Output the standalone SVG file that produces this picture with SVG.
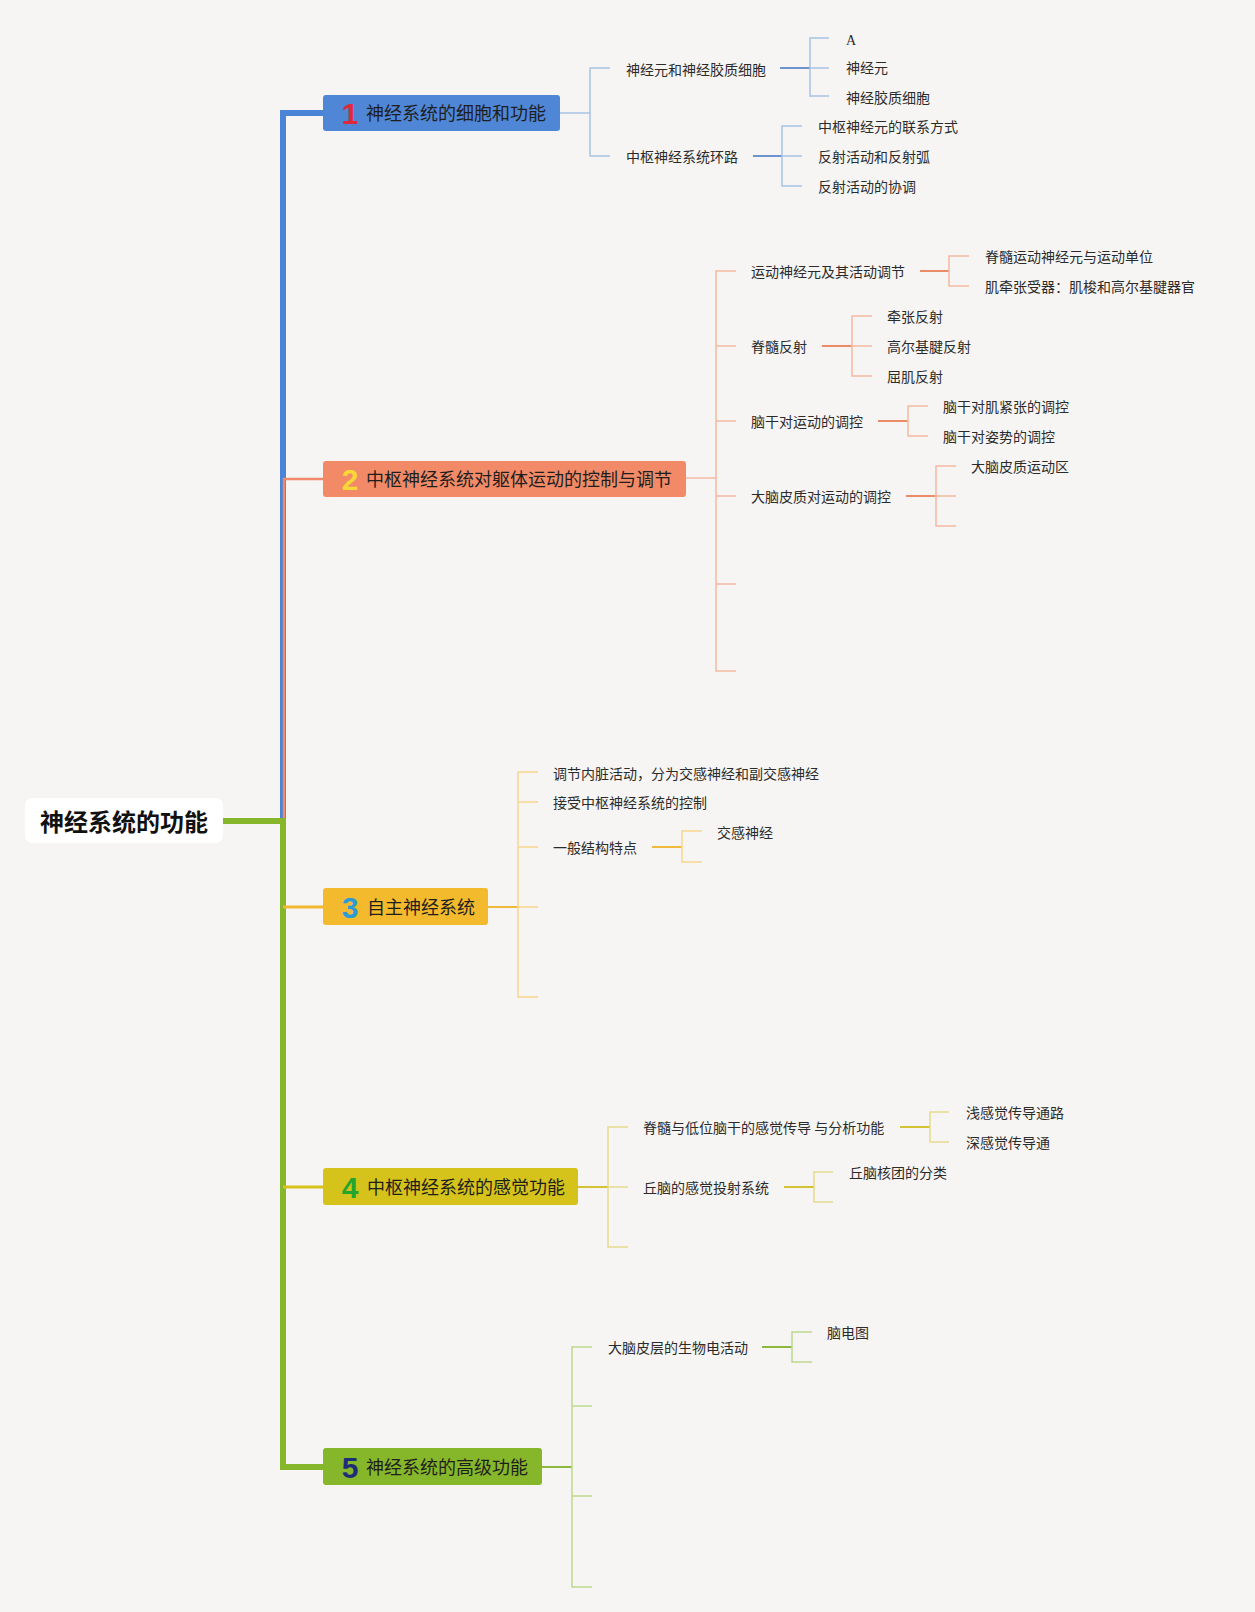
<svg xmlns="http://www.w3.org/2000/svg" width="1255" height="1612" viewBox="0 0 1255 1612">
<style>
  .t { font-family: "Noto Sans CJK SC", "Noto Sans", sans-serif; font-size: 14px; fill: #2b2b2b; }
  .bt { font-family: "Noto Sans CJK SC", "Noto Sans", sans-serif; font-size: 18px; fill: #1e1e1e; }
  .num { font-family: "Liberation Sans", Arial, sans-serif; font-size: 30px; font-weight: bold; text-anchor: middle; }
  .root { font-family: "Noto Sans CJK SC", "Noto Sans", sans-serif; font-size: 24px; font-weight: bold; fill: #111; text-anchor: middle; }
  .ser { font-family: "Liberation Serif", "Times New Roman", serif; font-size: 14px; fill: #2b2b2b; }
  path, line { fill: none; }
  .b1l { stroke: #a8c2e6; stroke-width: 1.5; }
  .b1d { stroke: #6b94cf; stroke-width: 2; }
  .b2l { stroke: #f5b9a3; stroke-width: 1.5; }
  .b2d { stroke: #ec8b68; stroke-width: 2; }
  .b3l { stroke: #f7d68f; stroke-width: 1.5; }
  .b3d { stroke: #f0bb3c; stroke-width: 2; }
  .b4l { stroke: #e5da8e; stroke-width: 1.5; }
  .b4d { stroke: #d3c231; stroke-width: 2; }
  .b5l { stroke: #bdd78f; stroke-width: 1.5; }
  .b5d { stroke: #8cb83c; stroke-width: 2; }
</style>
<rect x="0" y="0" width="1255" height="1612" fill="#f6f5f3"/>

<g id="connectors">
  <!-- trunk -->
  <path d="M323,113 H283 V821" stroke="#4a84d6" stroke-width="6"/>
  <path d="M323,479 H284 V821" stroke="#ef8a6b" stroke-width="2.5"/>
  <path d="M223,821 H283 V1467 H323" stroke="#86b62a" stroke-width="6"/>
  <path d="M283,907 H323" stroke="#f2b730" stroke-width="3"/>
  <path d="M283,1187 H323" stroke="#d5c31c" stroke-width="3"/>

  <!-- branch 1 -->
  <path class="b1l" d="M560,113 H590"/>
  <path class="b1l" d="M610,68 H590 V156 H610"/>
  <path class="b1d" d="M780,68 H810"/>
  <path class="b1l" d="M829,38 H810 V96 H829 M810,68 H829"/>
  <path class="b1d" d="M753,156 H782"/>
  <path class="b1l" d="M802,126 H782 V186 H802 M782,156 H802"/>

  <!-- branch 2 -->
  <path class="b2l" d="M686,478 H716"/>
  <path class="b2l" d="M736,271 H716 V671 H736 M716,346 H736 M716,421 H736 M716,496 H736 M716,584 H736"/>
  <path class="b2d" d="M920,271 H949"/>
  <path class="b2l" d="M969,256 H949 V286 H969"/>
  <path class="b2d" d="M822,346 H852"/>
  <path class="b2l" d="M872,316 H852 V376 H872 M852,346 H872"/>
  <path class="b2d" d="M878,421 H908"/>
  <path class="b2l" d="M928,406 H908 V436 H928"/>
  <path class="b2d" d="M906,496 H936"/>
  <path class="b2l" d="M956,466 H936 V526 H956 M936,496 H956"/>

  <!-- branch 3 -->
  <path class="b3d" d="M488,907 H518"/>
  <path class="b3l" d="M538,772 H518 V997 H538 M518,802 H538 M518,847 H538 M518,907 H538"/>
  <path class="b3d" d="M652,847 H682"/>
  <path class="b3l" d="M702,831 H682 V862 H702"/>

  <!-- branch 4 -->
  <path class="b4d" d="M578,1187 H608"/>
  <path class="b4l" d="M628,1127 H608 V1247 H628 M608,1187 H628"/>
  <path class="b4d" d="M900,1127 H930"/>
  <path class="b4l" d="M949,1112 H930 V1142 H949"/>
  <path class="b4d" d="M784,1187 H814"/>
  <path class="b4l" d="M833,1172 H814 V1202 H833"/>

  <!-- branch 5 -->
  <path class="b5d" d="M542,1467 H572"/>
  <path class="b5l" d="M592,1347 H572 V1587 H592 M572,1406 H592 M572,1496 H592"/>
  <path class="b5d" d="M762,1347 H792"/>
  <path class="b5l" d="M812,1332 H792 V1362 H812"/>
</g>

<g id="root">
  <rect x="25" y="798" width="198" height="45" rx="7" fill="#ffffff"/>
  <text class="root" x="124" y="831">神经系统的功能</text>
</g>

<g id="node-1">
  <rect x="323" y="95" width="237" height="36" rx="3" fill="#4f86d6"/>
  <text class="num" x="350" y="124" fill="#e0283c">1</text>
  <text class="bt" x="366" y="120">神经系统的细胞和功能</text>
</g>
<g id="node-1-1"><text class="t" x="626" y="75">神经元和神经胶质细胞</text></g>
<g id="node-1-1-1"><text class="ser" x="846" y="45">A</text></g>
<g id="node-1-1-2"><text class="t" x="846" y="73">神经元</text></g>
<g id="node-1-1-3"><text class="t" x="846" y="103">神经胶质细胞</text></g>
<g id="node-1-2"><text class="t" x="626" y="162">中枢神经系统环路</text></g>
<g id="node-1-2-1"><text class="t" x="818" y="132">中枢神经元的联系方式</text></g>
<g id="node-1-2-2"><text class="t" x="818" y="162">反射活动和反射弧</text></g>
<g id="node-1-2-3"><text class="t" x="818" y="192">反射活动的协调</text></g>

<g id="node-2">
  <rect x="323" y="461" width="363" height="36" rx="3" fill="#f28a67"/>
  <text class="num" x="350" y="490" fill="#f8d838">2</text>
  <text class="bt" x="366" y="486">中枢神经系统对躯体运动的控制与调节</text>
</g>
<g id="node-2-1"><text class="t" x="751" y="277">运动神经元及其活动调节</text></g>
<g id="node-2-1-1"><text class="t" x="985" y="262">脊髓运动神经元与运动单位</text></g>
<g id="node-2-1-2"><text class="t" x="985" y="292">肌牵张受器：肌梭和高尔基腱器官</text></g>
<g id="node-2-2"><text class="t" x="751" y="352">脊髓反射</text></g>
<g id="node-2-2-1"><text class="t" x="887" y="322">牵张反射</text></g>
<g id="node-2-2-2"><text class="t" x="887" y="352">高尔基腱反射</text></g>
<g id="node-2-2-3"><text class="t" x="887" y="382">屈肌反射</text></g>
<g id="node-2-3"><text class="t" x="751" y="427">脑干对运动的调控</text></g>
<g id="node-2-3-1"><text class="t" x="943" y="412">脑干对肌紧张的调控</text></g>
<g id="node-2-3-2"><text class="t" x="943" y="442">脑干对姿势的调控</text></g>
<g id="node-2-4"><text class="t" x="751" y="502">大脑皮质对运动的调控</text></g>
<g id="node-2-4-1"><text class="t" x="971" y="472">大脑皮质运动区</text></g>

<g id="node-3">
  <rect x="323" y="888" width="165" height="37" rx="3" fill="#f4ba2e"/>
  <text class="num" x="350" y="918" fill="#2b9bd8">3</text>
  <text class="bt" x="367" y="914">自主神经系统</text>
</g>
<g id="node-3-1"><text class="t" x="553" y="779">调节内脏活动，分为交感神经和副交感神经</text></g>
<g id="node-3-2"><text class="t" x="553" y="808">接受中枢神经系统的控制</text></g>
<g id="node-3-3"><text class="t" x="553" y="853">一般结构特点</text></g>
<g id="node-3-3-1"><text class="t" x="717" y="838">交感神经</text></g>

<g id="node-4">
  <rect x="323" y="1168" width="255" height="37" rx="3" fill="#d5c31c"/>
  <text class="num" x="350" y="1198" fill="#25a52b">4</text>
  <text class="bt" x="367" y="1194">中枢神经系统的感觉功能</text>
</g>
<g id="node-4-1"><text class="t" x="643" y="1133">脊髓与低位脑干的感觉传导 与分析功能</text></g>
<g id="node-4-1-1"><text class="t" x="966" y="1118">浅感觉传导通路</text></g>
<g id="node-4-1-2"><text class="t" x="966" y="1148">深感觉传导通</text></g>
<g id="node-4-2"><text class="t" x="643" y="1193">丘脑的感觉投射系统</text></g>
<g id="node-4-2-1"><text class="t" x="849" y="1178">丘脑核团的分类</text></g>

<g id="node-5">
  <rect x="323" y="1448" width="219" height="37" rx="3" fill="#86b62a"/>
  <text class="num" x="350" y="1478" fill="#1e2d78">5</text>
  <text class="bt" x="366" y="1474">神经系统的高级功能</text>
</g>
<g id="node-5-1"><text class="t" x="608" y="1353">大脑皮层的生物电活动</text></g>
<g id="node-5-1-1"><text class="t" x="827" y="1338">脑电图</text></g>
</svg>
